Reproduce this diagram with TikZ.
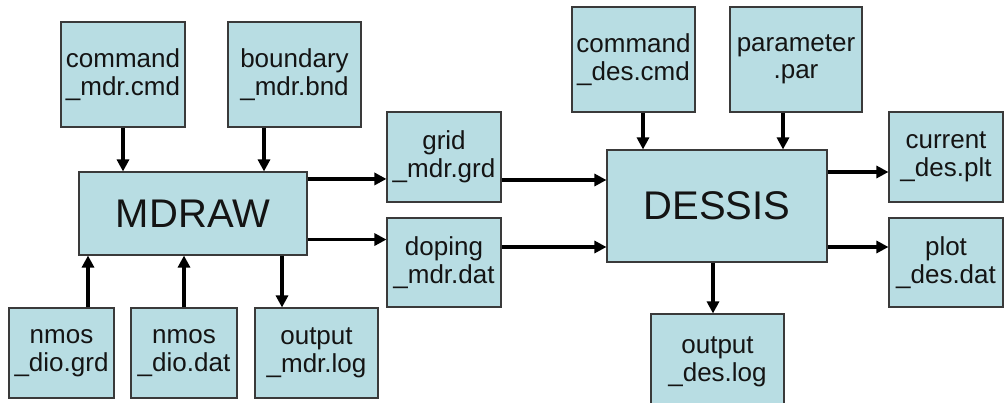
\documentclass[tikz,border=0pt]{standalone}
\usepackage{fontspec}
\setmainfont{Liberation Sans}
\usetikzlibrary{arrows.meta}
\definecolor{boxfill}{HTML}{B8DDE3}
\definecolor{boxline}{HTML}{3A3A3A}
\begin{document}
\begin{tikzpicture}[x=1pt,y=-1pt,
  fbox/.style={draw=boxline,line width=1.1pt,fill=boxfill,inner sep=0pt,align=center,
    font=\fontsize{26}{27.5}\selectfont,text=black!92},
  bigbox/.style={fbox,font=\fontsize{40}{44}\selectfont},
  arr/.style={line width=3.4pt,-{Triangle[length=12pt,width=12pt]}}]
\clip (0,0) rectangle (1004,403);
\fill[white] (0,0) rectangle (1004,403);
% MDRAW side
\node[fbox,minimum width=124pt,minimum height=105pt] (cmdm) at (123,74.5) {command\\\_mdr.cmd};
\node[fbox,minimum width=133pt,minimum height=105pt] (bnd) at (294.5,74.5) {boundary\\\_mdr.bnd};
\node[bigbox,minimum width=228pt,minimum height=83pt] (mdraw) at (193,213.5) {MDRAW};
\node[fbox,minimum width=114pt,minimum height=90pt] (grid) at (444,157) {grid\\\_mdr.grd};
\node[fbox,minimum width=114pt,minimum height=89pt] (doping) at (444,262.5) {doping\\\_mdr.dat};
\node[fbox,minimum width=105pt,minimum height=90pt] (nmosg) at (61.5,353) {nmos\\\_dio.grd};
\node[fbox,minimum width=106pt,minimum height=90pt] (nmosd) at (184,353) {nmos\\\_dio.dat};
\node[fbox,minimum width=123pt,minimum height=90pt] (outm) at (316.5,353) {output\\\_mdr.log};
% DESSIS side
\node[fbox,minimum width=123pt,minimum height=105pt] (cmdd) at (633.5,59.5) {command\\\_des.cmd};
\node[fbox,minimum width=132pt,minimum height=105pt] (par) at (796,59.5) {parameter\\.par};
\node[bigbox,minimum width=220pt,minimum height=112pt] (dessis) at (717,206) {DESSIS};
\node[fbox,minimum width=114pt,minimum height=90pt] (cur) at (946,157) {current\\\_des.plt};
\node[fbox,minimum width=114pt,minimum height=89pt] (plot) at (946,262.5) {plot\\\_des.dat};
\node[fbox,minimum width=133pt,minimum height=96pt] (outd) at (717.5,362) {output\\\_des.log};
% connectors MDRAW
\draw[arr] (cmdm.south) -- (cmdm.south |- mdraw.north);
\draw[arr] ([xshift=-30.5pt]bnd.south) -- ([xshift=-30.5pt]bnd.south |- mdraw.north);
\draw[arr] ([yshift=-7.5pt]mdraw.north east) -- ([yshift=-7.5pt]mdraw.north east -| grid.west);
\draw[arr] ([yshift=16pt]mdraw.south east) -- ([yshift=16pt]mdraw.south east -| doping.west);
\draw[arr] ([xshift=26.5pt]nmosg.north) -- ([xshift=26.5pt]nmosg.north |- mdraw.south);
\draw[arr] (nmosd.north) -- (nmosd.north |- mdraw.south);
\draw[arr] ([xshift=-34.5pt]outm.north |- mdraw.south) -- ([xshift=-34.5pt]outm.north);
% connectors DESSIS
\draw[arr] ([yshift=-23pt]grid.east) -- ([yshift=-23pt]grid.east -| dessis.west);
\draw[arr] ([yshift=15.5pt]doping.east) -- ([yshift=15.5pt]doping.east -| dessis.west);
\draw[arr] ([xshift=9.5pt]cmdd.south) -- ([xshift=9.5pt]cmdd.south |- dessis.north);
\draw[arr] ([xshift=-13pt]par.south) -- ([xshift=-13pt]par.south |- dessis.north);
\draw[arr] ([yshift=-15pt]cur.west -| dessis.east) -- ([yshift=-15pt]cur.west);
\draw[arr] ([yshift=15.5pt]plot.west -| dessis.east) -- ([yshift=15.5pt]plot.west);
\draw[arr] ([xshift=-4.5pt]outd.north |- dessis.south) -- ([xshift=-4.5pt]outd.north);
\end{tikzpicture}
\end{document}
